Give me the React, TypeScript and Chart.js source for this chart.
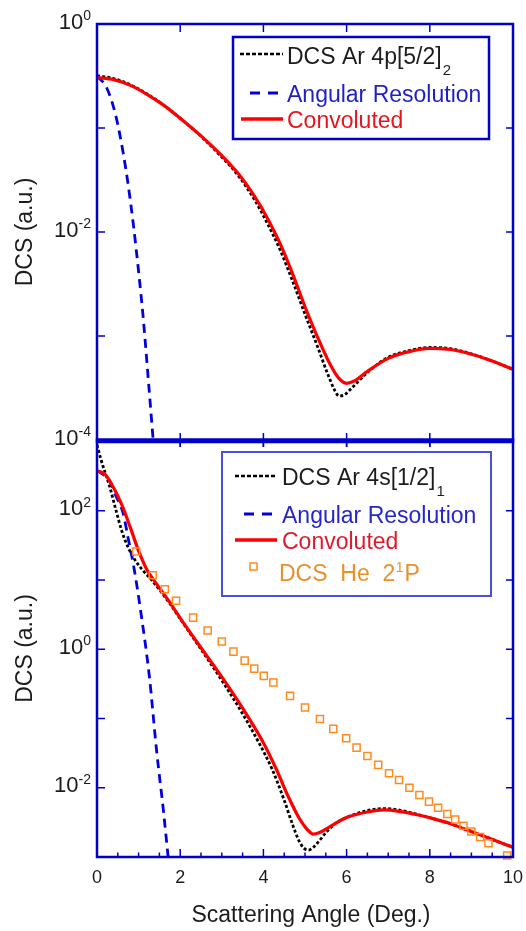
import React, { useEffect, useRef } from "react";
import { Chart, registerables } from "chart.js";

Chart.register(...registerables);

const W = 526;
const H = 931;
const FONT = '"Liberation Sans", Arial, Helvetica, sans-serif';
const FRAME = "#0000cc";
const BLUE = "#0000dd";
const RED = "#ff0000";
const ORANGE = "#ff8a1e";
const TEXT = "#1c1c1c";

// ---------- Top panel: Ar 4p[5/2]2 ----------
const topDcsAngle = [0, 0.4, 0.8, 1.2, 1.6, 2.0, 2.5, 3.0, 3.4, 3.8, 4.1, 4.4, 4.7, 5.0, 5.3, 5.55, 5.7, 5.82, 5.95, 6.1, 6.3, 6.5, 7.0, 7.5, 8.0, 8.5, 9.0, 9.5, 10];
const topDcsValue = [0.318, 0.299, 0.26, 0.213, 0.166, 0.124, 0.0832, 0.0525, 0.0347, 0.02, 0.012, 0.00676, 0.00339, 0.00162, 7.94e-4, 4.27e-4, 3.09e-4, 2.65e-4, 2.72e-4, 3.09e-4, 3.72e-4, 4.47e-4, 6.24e-4, 7.24e-4, 7.76e-4, 7.55e-4, 6.73e-4, 5.75e-4, 4.79e-4];

const topResAngle = [0, 0.23, 0.45, 0.63, 0.74, 0.875, 1.0, 1.11, 1.25, 1.35, 1.42];
const topResValue = [0.316, 0.245, 0.132, 0.0575, 0.0302, 0.0117, 0.00417, 0.00151, 3.16e-4, 1.0e-4, 4.47e-5];

const topConvAngle = [0, 0.4, 0.8, 1.2, 1.6, 2.0, 2.5, 3.0, 3.4, 3.8, 4.1, 4.4, 4.7, 5.0, 5.3, 5.6, 5.8, 6.0, 6.2, 6.5, 7.0, 7.5, 8.0, 8.5, 9.0, 9.5, 10];
const topConvValue = [0.305, 0.292, 0.257, 0.211, 0.166, 0.124, 0.0841, 0.0543, 0.0363, 0.0216, 0.0135, 0.00776, 0.00398, 0.00191, 9.77e-4, 5.37e-4, 3.98e-4, 3.51e-4, 3.72e-4, 4.57e-4, 6.1e-4, 7.08e-4, 7.62e-4, 7.41e-4, 6.68e-4, 5.75e-4, 4.79e-4];

// ---------- Bottom panel: Ar 4s[1/2]1 ----------
const botDcsAngle = [0, 0.1, 0.2, 0.3, 0.45, 0.6, 0.75, 0.9, 1.1, 1.3, 1.5, 1.75, 2.0, 2.5, 3.0, 3.5, 3.9, 4.2, 4.5, 4.7, 4.85, 4.97, 5.08, 5.2, 5.36, 5.5, 5.7, 6.0, 6.5, 6.93, 7.3, 7.7, 8.1, 8.5, 8.9, 9.3, 9.6, 10];
const botDcsValue = [891, 537, 347, 229, 105, 50.1, 29.5, 20.0, 13.8, 10.2, 7.24, 4.57, 2.75, 1.0, 0.355, 0.117, 0.0437, 0.0191, 0.00661, 0.00295, 0.00174, 0.00135, 0.00126, 0.00138, 0.00176, 0.00224, 0.00295, 0.00372, 0.00468, 0.00501, 0.00473, 0.00412, 0.00355, 0.00302, 0.00245, 0.002, 0.0017, 0.00138];

const botResAngle = [0, 0.2, 0.31, 0.45, 0.63, 0.75, 0.87, 1.07, 1.26, 1.43, 1.6, 1.71, 1.78];
const botResValue = [380, 316, 263, 166, 91.2, 39.8, 17.4, 2.95, 0.398, 0.0355, 0.00447, 0.001, 3.98e-4];

const botConvAngle = [0, 0.2, 0.4, 0.6, 0.8, 1.0, 1.2, 1.4, 1.7, 2.0, 2.5, 3.0, 3.5, 4.0, 4.3, 4.6, 4.85, 5.05, 5.2, 5.35, 5.6, 6.0, 6.5, 6.9, 7.3, 7.7, 8.1, 8.5, 8.9, 9.3, 9.6, 10];
const botConvValue = [380, 331, 214, 120, 57.5, 26.3, 14.1, 9.33, 5.25, 2.82, 1.05, 0.398, 0.141, 0.0447, 0.0191, 0.00741, 0.00372, 0.00251, 0.00214, 0.00226, 0.00275, 0.00372, 0.00447, 0.00479, 0.00452, 0.00407, 0.00355, 0.00302, 0.00245, 0.002, 0.0017, 0.00138];

const heAngle = [0.94, 1.34, 1.63, 1.9, 2.31, 2.66, 3.0, 3.28, 3.55, 3.78, 4.01, 4.24, 4.64, 5.0, 5.36, 5.68, 5.99, 6.24, 6.5, 6.76, 7.02, 7.26, 7.51, 7.75, 7.98, 8.2, 8.42, 8.61, 8.81, 9.0, 9.21, 9.41, 9.86];
const heValue = [25.7, 11.7, 7.33, 5.01, 2.86, 1.86, 1.29, 0.923, 0.684, 0.525, 0.412, 0.331, 0.212, 0.144, 0.0986, 0.0708, 0.0519, 0.038, 0.0288, 0.0214, 0.0162, 0.0129, 0.01, 0.00785, 0.00631, 0.00513, 0.00417, 0.00347, 0.00282, 0.00234, 0.00195, 0.00158, 0.00105];

// ---------- Axes ----------
const xMajorTicks = [0, 2, 4, 6, 8, 10];
const xMinorTicks = [0.5, 1, 1.5, 2.5, 3, 3.5, 4.5, 5, 5.5, 6.5, 7, 7.5, 8.5, 9, 9.5];
const topYDecades = [0, -1, -2, -3, -4];
const topYLabelled = [0, -2, -4];
const botYDecades = [2, 1, 0, -1, -2];
const botYLabelled = [2, 0, -2];
const topYRange = [1e-4, 1];
const botYRange = [1e-3, 1050];

const pts = (xs: number[], ys: number[]) => xs.map((x, i) => ({ x, y: ys[i] }));

function lineDs(label: string, xs: number[], ys: number[], kind: "dot" | "dash" | "solid", order: number) {
  const base: any = {
    label,
    data: pts(xs, ys),
    pointRadius: 0,
    fill: false,
    cubicInterpolationMode: "monotone",
    clip: 0,
    order,
  };
  if (kind === "dot") {
    base.borderColor = "#000000";
    base.borderWidth = 2.8;
    base.borderDash = [3, 2.2];
  } else if (kind === "dash") {
    base.borderColor = BLUE;
    base.borderWidth = 2.8;
    base.borderDash = [9, 6];
  } else {
    base.borderColor = RED;
    base.borderWidth = 3.2;
  }
  return base;
}

function drawPowLabel(ctx: CanvasRenderingContext2D, exp: number, y: number, right: number) {
  const expStr = exp < 0 ? "-" + Math.abs(exp) : String(exp);
  ctx.fillStyle = TEXT;
  ctx.font = `14px ${FONT}`;
  const ew = ctx.measureText(expStr).width;
  ctx.textAlign = "left";
  ctx.textBaseline = "alphabetic";
  ctx.fillText(expStr, right - ew, y - 4);
  ctx.font = `22px ${FONT}`;
  ctx.textAlign = "right";
  ctx.fillText("10", right - ew, y + 4.5);
}

function drawYTitle(ctx: CanvasRenderingContext2D, cy: number) {
  ctx.save();
  ctx.translate(32, cy);
  ctx.rotate(-Math.PI / 2);
  ctx.fillStyle = TEXT;
  ctx.font = `23px ${FONT}`;
  ctx.textAlign = "center";
  ctx.textBaseline = "alphabetic";
  ctx.fillText("DCS (a.u.)", 0, 0);
  ctx.restore();
}

function sample(ctx: CanvasRenderingContext2D, kind: string, x1: number, x2: number, y: number) {
  ctx.save();
  ctx.beginPath();
  if (kind === "dot") {
    ctx.strokeStyle = "#000";
    ctx.lineWidth = 2.6;
    ctx.setLineDash([4, 2]);
  } else if (kind === "dash") {
    ctx.strokeStyle = BLUE;
    ctx.lineWidth = 3;
    ctx.setLineDash([10, 8]);
  } else {
    ctx.strokeStyle = RED;
    ctx.lineWidth = 3.5;
  }
  ctx.moveTo(x1, y);
  ctx.lineTo(x2, y);
  ctx.stroke();
  ctx.restore();
}

function text(ctx: CanvasRenderingContext2D, s: string, x: number, y: number, size: number, color: string) {
  ctx.font = `${size}px ${FONT}`;
  ctx.fillStyle = color;
  ctx.textAlign = "left";
  ctx.textBaseline = "alphabetic";
  ctx.fillText(s, x, y);
  return ctx.measureText(s).width;
}

function drawTicks(ctx: CanvasRenderingContext2D, chart: any, decades: number[], top: boolean) {
  const ca = chart.chartArea;
  const sx = chart.scales.x;
  const sy = chart.scales.y;
  ctx.save();
  ctx.strokeStyle = FRAME;
  ctx.lineWidth = 1.5;
  ctx.beginPath();
  for (const v of xMajorTicks.slice(1, -1)) {
    const px = sx.getPixelForValue(v);
    if (top) {
      ctx.moveTo(px, ca.top);
      ctx.lineTo(px, ca.top + 8);
      ctx.moveTo(px, ca.bottom - 7);
      ctx.lineTo(px, ca.bottom + 7);
    } else {
      ctx.moveTo(px, ca.top);
      ctx.lineTo(px, ca.top + 7);
      ctx.moveTo(px, ca.bottom);
      ctx.lineTo(px, ca.bottom - 8);
    }
  }
  if (!top) {
    for (const v of xMinorTicks) {
      const px = sx.getPixelForValue(v);
      ctx.moveTo(px, ca.bottom);
      ctx.lineTo(px, ca.bottom - 4.5);
    }
  }
  for (const d of decades) {
    const py = sy.getPixelForValue(Math.pow(10, d));
    if (py <= ca.top + 1 || py >= ca.bottom - 1) continue;
    ctx.moveTo(ca.left, py);
    ctx.lineTo(ca.left + 8, py);
    ctx.moveTo(ca.right, py);
    ctx.lineTo(ca.right - 7, py);
  }
  ctx.stroke();
  ctx.restore();
}

const topPlugin = {
  id: "topFrame",
  afterDraw(chart: any) {
    const ctx: CanvasRenderingContext2D = chart.ctx;
    const ca = chart.chartArea;
    const sy = chart.scales.y;
    ctx.save();
    ctx.strokeStyle = FRAME;
    ctx.lineWidth = 2.5;
    ctx.beginPath();
    ctx.moveTo(ca.left - 1.25, ca.top);
    ctx.lineTo(ca.right + 1.25, ca.top);
    ctx.moveTo(ca.left, ca.top);
    ctx.lineTo(ca.left, ca.bottom);
    ctx.moveTo(ca.right, ca.top);
    ctx.lineTo(ca.right, ca.bottom);
    ctx.stroke();
    ctx.lineWidth = 5;
    ctx.beginPath();
    ctx.moveTo(ca.left - 1.25, ca.bottom + 0.8);
    ctx.lineTo(ca.right + 1.25, ca.bottom + 0.8);
    ctx.stroke();
    ctx.restore();
    drawTicks(ctx, chart, topYDecades, true);
    for (const d of topYLabelled) drawPowLabel(ctx, d, sy.getPixelForValue(Math.pow(10, d)), ca.left - 6);
    drawYTitle(ctx, (ca.top + ca.bottom) / 2);

    // legend
    const L = ca.left + 136;
    const T = ca.top + 13;
    ctx.save();
    ctx.strokeStyle = FRAME;
    ctx.lineWidth = 2.5;
    ctx.strokeRect(L, T, 256, 102);
    ctx.restore();
    sample(ctx, "dot", L + 7, L + 50, T + 17);
    const w1 = text(ctx, "DCS Ar 4p[5/2]", L + 54, T + 27, 23, TEXT);
    text(ctx, "2", L + 54 + w1 + 1, T + 38, 15, TEXT);
    sample(ctx, "dash", L + 17, L + 47, T + 56);
    text(ctx, "Angular Resolution", L + 54, T + 65, 23, "#1f1fc8");
    sample(ctx, "solid", L + 8, L + 50, T + 82);
    text(ctx, "Convoluted", L + 54, T + 91, 23, "#e8141e");
  },
};

const botPlugin = {
  id: "botFrame",
  afterDraw(chart: any) {
    const ctx: CanvasRenderingContext2D = chart.ctx;
    const ca = chart.chartArea;
    const sx = chart.scales.x;
    const sy = chart.scales.y;
    ctx.save();
    ctx.strokeStyle = FRAME;
    ctx.lineWidth = 2.5;
    ctx.beginPath();
    ctx.moveTo(ca.left, ca.top);
    ctx.lineTo(ca.left, ca.bottom);
    ctx.moveTo(ca.right, ca.top);
    ctx.lineTo(ca.right, ca.bottom);
    ctx.moveTo(ca.left - 1.25, ca.bottom);
    ctx.lineTo(ca.right + 1.25, ca.bottom);
    ctx.stroke();
    ctx.restore();
    drawTicks(ctx, chart, botYDecades, false);
    for (const d of botYLabelled) drawPowLabel(ctx, d, sy.getPixelForValue(Math.pow(10, d)), ca.left - 6);
    drawYTitle(ctx, (ca.top + ca.bottom) / 2);

    // x tick labels
    ctx.save();
    ctx.fillStyle = TEXT;
    ctx.font = `18px ${FONT}`;
    ctx.textAlign = "center";
    ctx.textBaseline = "alphabetic";
    for (const v of xMajorTicks) ctx.fillText(String(v), sx.getPixelForValue(v), ca.bottom + 26);
    ctx.font = `23px ${FONT}`;
    ctx.fillText("Scattering Angle (Deg.)", (ca.left + ca.right) / 2 + 6, ca.bottom + 65);
    ctx.restore();

    // legend
    const L = ca.left + 125;
    const T = ca.top + 12;
    ctx.save();
    ctx.strokeStyle = "#4c4ce0";
    ctx.lineWidth = 2;
    ctx.strokeRect(L, T, 269, 144);
    ctx.restore();
    sample(ctx, "dot", L + 13, L + 54, T + 24);
    const w1 = text(ctx, "DCS Ar 4s[1/2]", L + 60, T + 33, 23, TEXT);
    text(ctx, "1", L + 60 + w1 + 1, T + 44, 15, TEXT);
    sample(ctx, "dash", L + 22, L + 53, T + 62);
    text(ctx, "Angular Resolution", L + 60, T + 71, 23, "#2626c8");
    sample(ctx, "solid", L + 13, L + 55, T + 88);
    text(ctx, "Convoluted", L + 60, T + 97, 23, "#e01a2e");
    ctx.save();
    ctx.strokeStyle = ORANGE;
    ctx.lineWidth = 1.5;
    ctx.strokeRect(L + 28, T + 111, 7, 7);
    ctx.restore();
    const oc = "#e8912c";
    let x = L + 57;
    x += text(ctx, "DCS  He  2", x, T + 129, 23, oc);
    x += text(ctx, "1", x + 0.5, T + 120, 14, oc) + 1.5;
    text(ctx, "P", x, T + 129, 23, oc);
  },
};

function baseOptions(padTop: number, padBottom: number, yr: number[]): any {
  return {
    responsive: false,
    maintainAspectRatio: false,
    animation: false,
    devicePixelRatio: 1,
    events: [],
    layout: { padding: { left: 97, right: 13, top: padTop, bottom: padBottom } },
    plugins: { legend: { display: false }, tooltip: { enabled: false } },
    scales: {
      x: { type: "linear", min: 0, max: 10, display: false },
      y: { type: "logarithmic", min: yr[0], max: yr[1], display: false },
    },
  };
}

export default function App() {
  const topRef = useRef<HTMLCanvasElement>(null);
  const botRef = useRef<HTMLCanvasElement>(null);

  useEffect(() => {
    const top = new Chart(topRef.current as HTMLCanvasElement, {
      type: "line",
      data: {
        datasets: [
          lineDs("Convoluted", topConvAngle, topConvValue, "solid", 1),
          lineDs("Angular Resolution", topResAngle, topResValue, "dash", 2),
          lineDs("DCS Ar 4p[5/2]2", topDcsAngle, topDcsValue, "dot", 3),
        ],
      },
      options: baseOptions(24, H - 440, topYRange),
      plugins: [topPlugin],
    } as any);

    const bot = new Chart(botRef.current as HTMLCanvasElement, {
      type: "line",
      data: {
        datasets: [
          {
            label: "DCS He 2^1P",
            data: pts(heAngle, heValue),
            showLine: false,
            pointStyle: "rect",
            pointRadius: 5,
            pointBorderWidth: 1.5,
            pointBorderColor: ORANGE,
            pointBackgroundColor: "rgba(255,255,255,0)",
            borderColor: ORANGE,
            clip: false,
            order: 0,
          } as any,
          lineDs("Convoluted", botConvAngle, botConvValue, "solid", 1),
          lineDs("Angular Resolution", botResAngle, botResValue, "dash", 2),
          lineDs("DCS Ar 4s[1/2]1", botDcsAngle, botDcsValue, "dot", 3),
        ],
      },
      options: baseOptions(440, H - 857, botYRange),
      plugins: [botPlugin],
    } as any);

    return () => {
      top.destroy();
      bot.destroy();
    };
  }, []);

  return (
    <div style={{ position: "absolute", left: 0, top: 0, width: W, height: H, background: "#ffffff" }}>
      <canvas ref={topRef} width={W} height={H} style={{ position: "absolute", left: 0, top: 0 }} />
      <canvas ref={botRef} width={W} height={H} style={{ position: "absolute", left: 0, top: 0 }} />
    </div>
  );
}
